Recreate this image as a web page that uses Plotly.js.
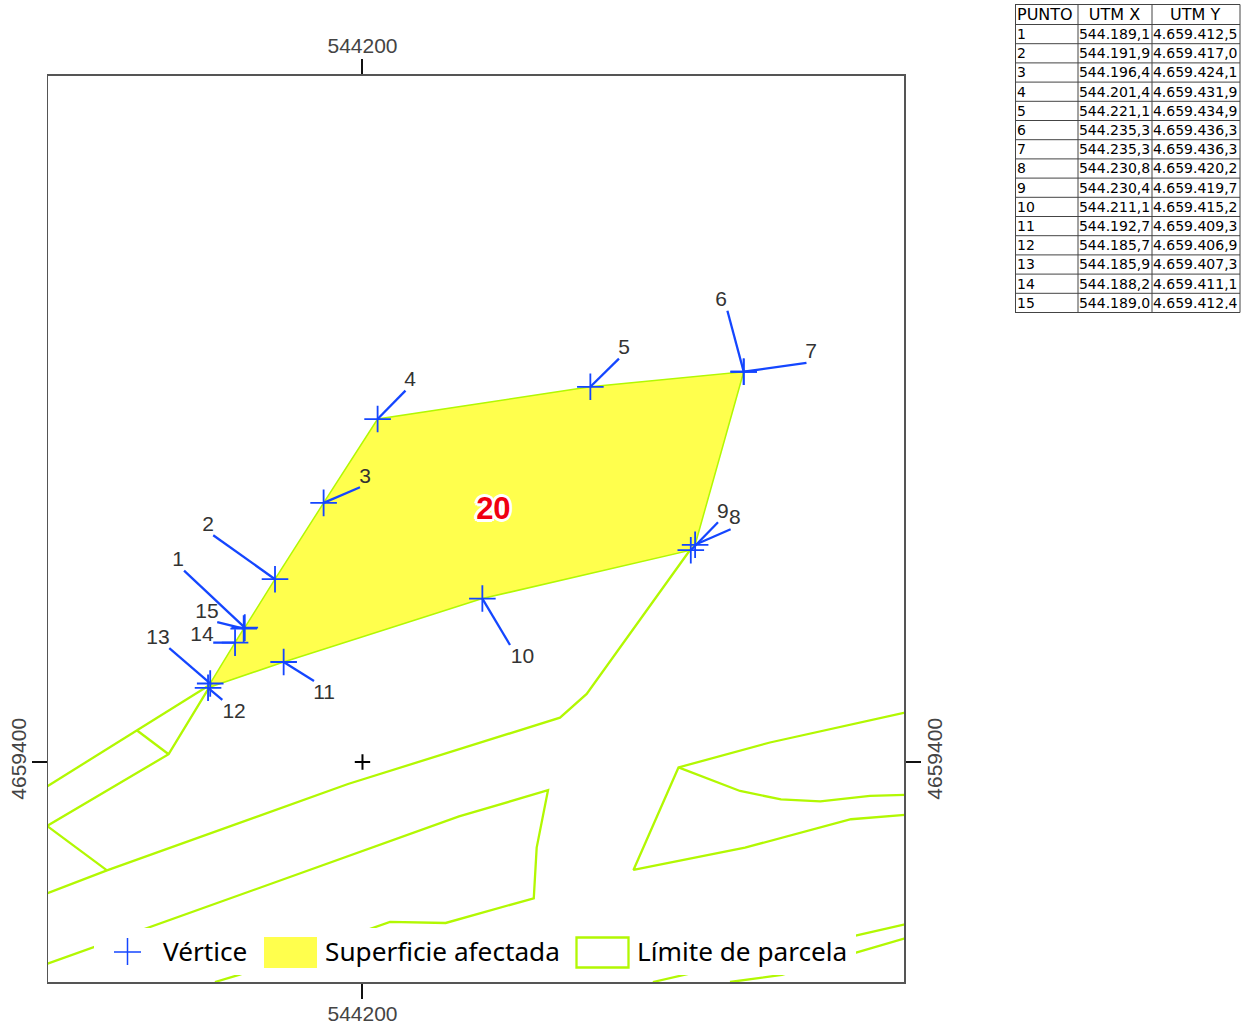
<!DOCTYPE html>
<html>
<head>
<meta charset="utf-8">
<script src="https://cdn.plot.ly/plotly-3.0.1.min.js"></script>
<style>html,body{margin:0;padding:0;background:#fff}</style>
</head>
<body>
<div id="chart" style="width:1241px;height:1023px"></div>
<script>
// Vertices of the affected area (UTM, from the table)
const puntos = ["1","2","3","4","5","6","7","8","9","10","11","12","13","14","15"];
const utmX = [544189.1,544191.9,544196.4,544201.4,544221.1,544235.3,544235.3,544230.8,544230.4,544211.1,544192.7,544185.7,544185.9,544188.2,544189.0];
const utmY = [4659412.5,4659417.0,4659424.1,4659431.9,4659434.9,4659436.3,4659436.3,4659420.2,4659419.7,4659415.2,4659409.3,4659406.9,4659407.3,4659411.1,4659412.4];
const utmXText = ["544.189,1","544.191,9","544.196,4","544.201,4","544.221,1","544.235,3","544.235,3","544.230,8","544.230,4","544.211,1","544.192,7","544.185,7","544.185,9","544.188,2","544.189,0"];
const utmYText = ["4.659.412,5","4.659.417,0","4.659.424,1","4.659.431,9","4.659.434,9","4.659.436,3","4.659.436,3","4.659.420,2","4.659.419,7","4.659.415,2","4.659.409,3","4.659.406,9","4.659.407,3","4.659.411,1","4.659.412,4"];
const tableHeader = ["PUNTO","UTM X","UTM Y"];

// Leader line ends and label anchors (UTM)
const leaderEndX = [544183.48,544186.18,544199.77,544203.98,544223.75,544233.79,544241.11,544234.09,544232.92,544213.66,544195.51,544187.02,544182.11,544186.18,544186.55];
const leaderEndY = [4659417.80,4659421.09,4659425.55,4659434.54,4659437.52,4659441.98,4659437.12,4659421.65,4659422.30,4659410.88,4659407.53,4659405.77,4659410.58,4659411.10,4659413.00];
const labelX = [544182.92,544185.70,544200.23,544204.40,544224.22,544233.20,544241.53,544234.49,544233.37,544214.81,544196.44,544188.11,544181.07,544185.14,544185.60];
const labelY = [4659418.74,4659421.95,4659426.41,4659435.44,4659438.41,4659442.88,4659438.04,4659422.60,4659423.16,4659409.67,4659406.32,4659404.55,4659411.44,4659411.72,4659413.90];

// Parcel limits (UTM)
const limA_x = [544170.79,544179.10,544185.70], limA_y = [4659397.72,4659402.95,4659407.07];
const limB_x = [544170.79,544182.05,544186.06], limB_y = [4659394.05,4659400.72,4659407.35];
const limC_x = [544179.10,544182.05], limC_y = [4659402.95,4659400.72];
const limD_x = [544170.79,544176.34], limD_y = [4659394.05,4659389.91];
const limE_x = [544170.79,544176.34,544198.66,544218.29,544220.76,544230.33], limE_y = [4659387.77,4659389.91,4659397.95,4659404.12,4659406.33,4659419.72];
const limF_x = [544170.79,544208.94,544217.18,544216.13,544215.86,544207.70,544202.55,544188.56,544186.34], limF_y = [4659381.21,4659394.93,4659397.37,4659392.03,4659387.32,4659385.02,4659385.12,4659380.19,4659379.53];
const limG_x = [544226.89,544245.70,544250.23], limG_y = [4659379.53,4659383.91,4659384.90];
const limH_x = [544234.03,544238.84,544245.70,544250.23], limH_y = [4659379.53,4659380.19,4659382.26,4659383.60];
const limI_x = [544250.23,544237.73,544229.26,544225.09,544235.42,544245.23,544250.23], limI_y = [4659404.60,4659401.81,4659399.49,4659389.95,4659392.03,4659394.67,4659395.07];
const limJ_x = [544229.26,544234.96,544238.75,544242.39,544246.99,544250.23], limJ_y = [4659399.49,4659397.30,4659396.51,4659396.34,4659396.84,4659396.93];
const limits = [[limA_x,limA_y],[limB_x,limB_y],[limC_x,limC_y],[limD_x,limD_y],[limE_x,limE_y],[limF_x,limF_y],[limG_x,limG_y],[limH_x,limH_y],[limI_x,limI_y],[limJ_x,limJ_y]];

const parcelLabel = ["20"], parcelLabelX = [544212.12], parcelLabelY = [4659423.36];
const xTick = [544200], yTick = [4659400];
const legendNames = ["Vértice","Superficie afectada","Límite de parcela"];

const BLUE = "#1446ff", LIME = "#b2f802", YELLOW = "#ffff4d";
const W = 1241, H = 1023;
const px = v => v / W, py = v => 1 - v / H;

const traces = [];
traces.push({type:"scatter", mode:"lines", x:utmX, y:utmY, fill:"toself", fillcolor:YELLOW,
  line:{color:LIME, width:1.5}, hoverinfo:"skip", showlegend:false, name:legendNames[1]});
limits.forEach(l => traces.push({type:"scatter", mode:"lines", x:l[0], y:l[1],
  line:{color:LIME, width:2.3}, hoverinfo:"skip", showlegend:false, name:legendNames[2]}));
// leaders
const lx = [], ly = [];
utmX.forEach((v,i) => { lx.push(v, leaderEndX[i], null); ly.push(utmY[i], leaderEndY[i], null); });
traces.push({type:"scatter", mode:"lines", x:lx, y:ly, line:{color:BLUE, width:2.3}, hoverinfo:"skip", showlegend:false});
traces.push({type:"scatter", mode:"markers", x:utmX, y:utmY, text:puntos, name:legendNames[0], showlegend:false,
  marker:{symbol:"cross-thin", size:19, line:{color:BLUE, width:1.8}, color:BLUE}});
traces.push({type:"scatter", mode:"text", x:labelX, y:labelY, text:puntos, textposition:"middle center", cliponaxis:false,
  textfont:{family:"Liberation Sans", size:21, color:"#333333"}, hoverinfo:"skip", showlegend:false});
traces.push({type:"scatter", mode:"text", x:parcelLabelX, y:parcelLabelY, text:parcelLabel, textposition:"middle center",
  textfont:{family:"Liberation Sans", size:31, weight:700, color:"#f00010",
    shadow:"3px 0 0 #fff,-3px 0 0 #fff,0 3px 0 #fff,0 -3px 0 #fff,2px 2px 0 #fff,-2px 2px 0 #fff,2px -2px 0 #fff,-2px -2px 0 #fff"},
  hoverinfo:"skip", showlegend:false});
// centre cross, on the mirrored axes
traces.push({type:"scatter", mode:"markers", x:xTick, y:yTick, xaxis:"x2", yaxis:"y2",
  marker:{symbol:"cross-thin", size:11, line:{color:"#000", width:2}}, hoverinfo:"skip", showlegend:false});
// table
traces.push({type:"table", domain:{x:[1009/W,1240/W], y:[1-310/H,1]}, columnwidth:[69,74,88],
  header:{values:tableHeader, align:["left","center","center"], height:20.5, fill:{color:"rgba(0,0,0,0)"}, line:{width:0, color:"rgba(0,0,0,0)"},
    font:{family:"DejaVu Sans", size:16, color:"#000"}},
  cells:{values:[puntos,utmXText,utmYText], align:["left","center","center"], height:19.2, fill:{color:"rgba(0,0,0,0)"}, line:{width:0, color:"rgba(0,0,0,0)"},
    font:{family:"DejaVu Sans", size:14, color:"#000"}}});

const axisBase = {showgrid:false, zeroline:false, showline:true, linecolor:"#555", linewidth:1.5,
  ticks:"outside", ticklen:15, tickwidth:2, tickcolor:"#111", tickmode:"array",
  tickfont:{family:"Liberation Sans", size:21, color:"#444"}};
const xRange = [544170.88,544250.17], yRange = [4659379.53,4659463.83];
const xDom = [48/W,904.3/W], yDom = [1-982/H,1-75.8/H];

const shapes = [], annotations = [];
// legend panel
shapes.push({type:"rect", xref:"paper", yref:"paper", x0:px(94), x1:px(856), y0:py(928), y1:py(975), fillcolor:"#fff", line:{width:0}, layer:"above"});
shapes.push({type:"line", xref:"paper", yref:"paper", x0:px(114), x1:px(141), y0:py(952), y1:py(952), line:{color:BLUE, width:1.5}, layer:"above"});
shapes.push({type:"line", xref:"paper", yref:"paper", x0:px(127.5), x1:px(127.5), y0:py(938), y1:py(965), line:{color:BLUE, width:1.5}, layer:"above"});
shapes.push({type:"rect", xref:"paper", yref:"paper", x0:px(264), x1:px(317), y0:py(937), y1:py(968), fillcolor:YELLOW, line:{width:0}, layer:"above"});
shapes.push({type:"rect", xref:"paper", yref:"paper", x0:px(576.5), x1:px(628.5), y0:py(937.5), y1:py(967.5), fillcolor:"#fff", line:{color:LIME, width:2.3}, layer:"above"});
[[160.5,0],[322.5,1],[635,2]].forEach(a => annotations.push({xref:"paper", yref:"paper", x:px(a[0]), y:py(951),
  xanchor:"left", yanchor:"middle", text:legendNames[a[1]], showarrow:false,
  font:{family:"Noto Sans", size:26.2, color:"#000"}}));
// table grid
const rowY = [4.5, 24.5];
puntos.forEach((p,i) => rowY.push(24.5 + (i+1)*19.2));
rowY.forEach(y => shapes.push({type:"line", xref:"paper", yref:"paper", x0:px(1015), x1:px(1240), y0:py(y), y1:py(y), line:{color:"#444", width:1}}));
[1015.5,1078,1152,1240].forEach(x => shapes.push({type:"line", xref:"paper", yref:"paper", x0:px(x), x1:px(x), y0:py(4.5), y1:py(rowY[rowY.length-1]), line:{color:"#444", width:1}}));

const layout = {
  width:W, height:H, margin:{l:0,r:0,t:0,b:0,pad:0}, paper_bgcolor:"#fff", plot_bgcolor:"#fff", showlegend:false, hovermode:false,
  xaxis:Object.assign({}, axisBase, {domain:xDom, range:xRange, anchor:"y", side:"bottom", tickvals:xTick, ticktext:xTick.map(String), ticklabelstandoff:-3}),
  yaxis:Object.assign({}, axisBase, {domain:yDom, range:yRange, anchor:"x", side:"left", tickangle:-90, tickvals:yTick, ticktext:yTick.map(String), ticklabelstandoff:-3}),
  xaxis2:Object.assign({}, axisBase, {domain:xDom, range:xRange, anchor:"y2", side:"top", overlaying:"x", tickvals:xTick, ticktext:xTick.map(String), ticklabelstandoff:-2}),
  yaxis2:Object.assign({}, axisBase, {domain:yDom, range:yRange, anchor:"x2", side:"right", overlaying:"y", tickangle:-90, tickvals:yTick, ticktext:yTick.map(String), ticklabelstandoff:-4}),
  shapes, annotations
};
Plotly.newPlot("chart", traces, layout, {staticPlot:true, displayModeBar:false});
</script>
</body>
</html>
